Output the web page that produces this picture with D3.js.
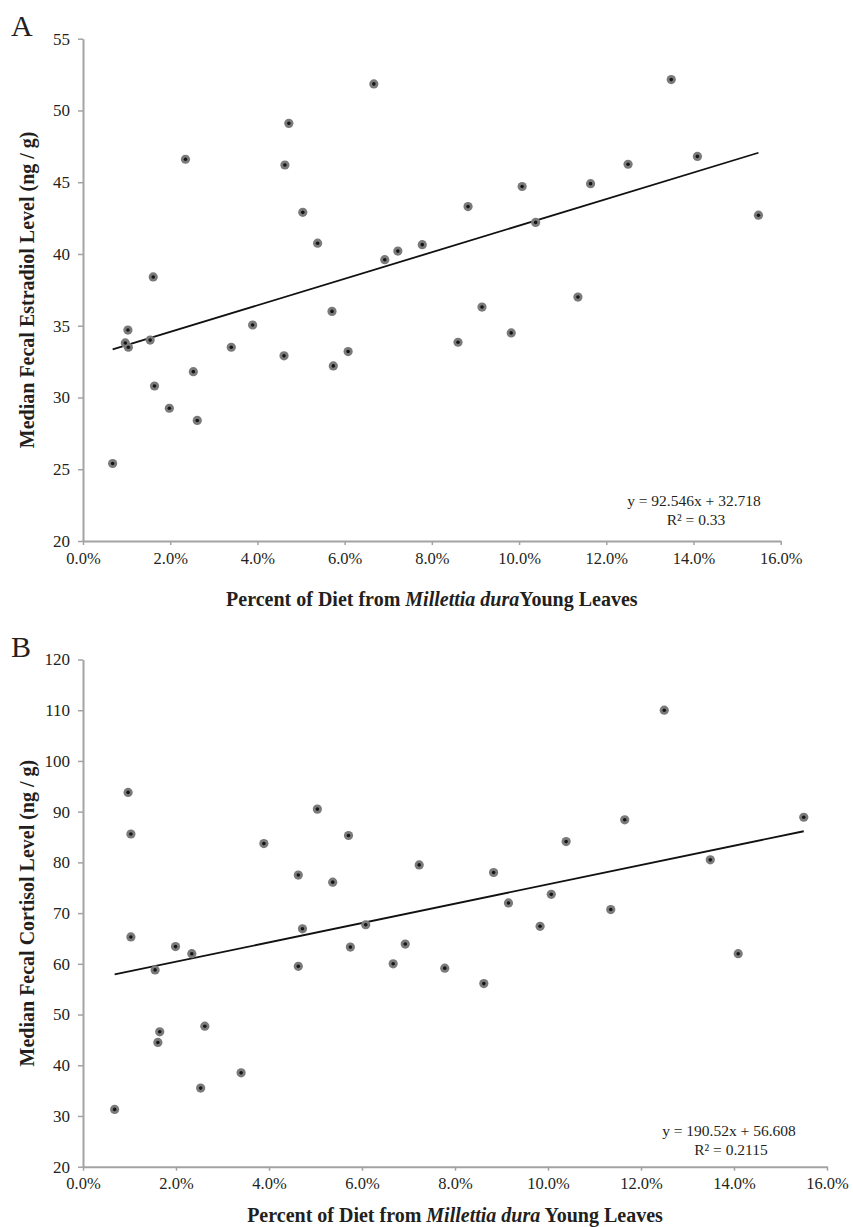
<!DOCTYPE html>
<html>
<head>
<meta charset="utf-8">
<script src="https://cdn.jsdelivr.net/npm/d3@7"></script>
<style>
  html, body { margin: 0; padding: 0; background: #fff; }
  svg { display: block; }
  svg text { font-family: "Liberation Serif", "Times New Roman", Times, serif; fill: #231f20; }
</style>
</head>
<body>
<svg id="chart" width="853" height="1227"></svg>
<script>
// ---- Data (x as fraction of diet) ----
const estradiolX = [0.0068, 0.0097, 0.0103, 0.0104, 0.0154, 0.0161, 0.0164, 0.0198, 0.0235, 0.0253, 0.0262, 0.0340, 0.0389, 0.0461, 0.0463, 0.0472, 0.0504, 0.0538, 0.0571, 0.0574, 0.0608, 0.0667, 0.0692, 0.0722, 0.0778, 0.0860, 0.0883, 0.0915, 0.0982, 0.1007, 0.1038, 0.1135, 0.1164, 0.1250, 0.1349, 0.1409, 0.1549];
const estradiolY = [25.4, 33.8, 34.7, 33.5, 34.0, 38.4, 30.8, 29.25, 46.6, 31.8, 28.4, 33.5, 35.05, 32.9, 46.2, 49.1, 42.9, 40.75, 36.0, 32.2, 33.2, 51.85, 39.6, 40.2, 40.65, 33.85, 43.3, 36.3, 34.5, 44.7, 42.2, 37.0, 44.9, 46.25, 52.15, 46.8, 42.7];

const cortisolX = [0.0068, 0.0097, 0.0103, 0.0103, 0.0155, 0.0161, 0.0165, 0.0199, 0.0234, 0.0253, 0.0262, 0.0340, 0.0389, 0.0463, 0.0463, 0.0472, 0.0504, 0.0537, 0.0571, 0.0575, 0.0608, 0.0667, 0.0693, 0.0723, 0.0778, 0.0862, 0.0883, 0.0915, 0.0983, 0.1007, 0.1039, 0.1135, 0.1165, 0.1250, 0.1349, 0.1409, 0.1550];
const cortisolY = [31.3, 93.8, 85.6, 65.3, 58.8, 44.5, 46.6, 63.4, 62.0, 35.5, 47.7, 38.5, 83.7, 77.5, 59.5, 66.9, 90.5, 76.1, 85.3, 63.3, 67.7, 60.0, 63.9, 79.5, 59.15, 56.1, 78.0, 72.0, 67.4, 73.7, 84.1, 70.7, 88.4, 110.0, 80.5, 62.0, 88.9];

const xTicks = [0, 0.02, 0.04, 0.06, 0.08, 0.10, 0.12, 0.14, 0.16];
const estradiolTicks = [20, 25, 30, 35, 40, 45, 50, 55];
const cortisolTicks = [20, 30, 40, 50, 60, 70, 80, 90, 100, 110, 120];

const estradiolFit = [92.546, 32.718];   // slope, intercept
const cortisolFit = [190.52, 56.608];
const estradiolFitText = ["y = 92.546x + 32.718", "R\u00B2 = 0.33"];
const cortisolFitText = ["y = 190.52x + 56.608", "R\u00B2 = 0.2115"];

const panelLetters = ["A", "B"];
const yTitles = ["Median Fecal Estradiol Level (ng / g)", "Median Fecal Cortisol Level (ng / g)"];

const SERIF = '"Liberation Serif", "Times New Roman", Times, serif';
const svg = d3.select("#chart");
const axisColor = "#a3a3a3";

function drawPanel(cfg) {
  const x = d3.scaleLinear().domain([0, 0.16]).range([cfg.left, cfg.right]);
  const y = d3.scaleLinear().domain([cfg.yTicks[0], cfg.yTicks[cfg.yTicks.length - 1]]).range([cfg.bottom, cfg.top]);
  const g = svg.append("g");

  // y axis
  const ya = g.append("g").attr("transform", `translate(${cfg.left},0)`)
    .call(d3.axisLeft(y).tickValues(cfg.yTicks).tickSize(5).tickSizeOuter(0).tickPadding(8));
  ya.attr("font-family", SERIF).attr("font-size", 17);
  ya.select(".domain").attr("stroke", axisColor).attr("stroke-width", 2);
  ya.selectAll(".tick line").attr("stroke", axisColor).attr("stroke-width", 1.5);
  ya.selectAll(".tick text").attr("font-family", SERIF).attr("font-size", 17).attr("fill", "#231f20");

  // x axis
  const xa = g.append("g").attr("transform", `translate(0,${cfg.bottom})`)
    .call(d3.axisBottom(x).tickValues(xTicks).tickFormat(d3.format(".1%")).tickSize(4).tickSizeOuter(0).tickPadding(7));
  xa.attr("font-family", SERIF).attr("font-size", 16.5);
  xa.select(".domain").attr("stroke", axisColor).attr("stroke-width", 2);
  xa.selectAll(".tick line").attr("stroke", axisColor).attr("stroke-width", 1.5);
  xa.selectAll(".tick text").attr("font-family", SERIF).attr("font-size", 16.5).attr("fill", "#231f20");

  // trend line
  const xmin = d3.min(cfg.xs), xmax = d3.max(cfg.xs);
  const f = v => cfg.fit[0] * v + cfg.fit[1];
  g.append("line")
    .attr("x1", x(xmin)).attr("y1", y(f(xmin)))
    .attr("x2", x(xmax)).attr("y2", y(f(xmax)))
    .attr("stroke", "#111").attr("stroke-width", 1.8);

  // points
  const pts = cfg.xs.map((v, i) => [v, cfg.ys[i]]);
  g.selectAll("circle.outer").data(pts).enter().append("circle")
    .attr("class", "outer")
    .attr("cx", d => x(d[0])).attr("cy", d => y(d[1])).attr("r", 4.6)
    .attr("fill", "#7a7a7a");
  g.selectAll("circle.inner").data(pts).enter().append("circle")
    .attr("class", "inner")
    .attr("cx", d => x(d[0])).attr("cy", d => y(d[1])).attr("r", 1.8)
    .attr("fill", "#151515");

  // equation text
  g.append("text").attr("x", cfg.eqX).attr("y", cfg.eqY).attr("text-anchor", "middle")
    .attr("font-family", SERIF).attr("font-size", 15.5).text(cfg.fitText[0]);
  g.append("text").attr("x", cfg.eqX + 2).attr("y", cfg.eqY + 19).attr("text-anchor", "middle")
    .attr("font-family", SERIF).attr("font-size", 15.5).text(cfg.fitText[1]);

  // panel letter
  g.append("text").attr("x", 11).attr("y", cfg.letterY).attr("font-family", SERIF).attr("font-size", 30).text(cfg.letter);

  // y title
  g.append("text")
    .attr("transform", `translate(34,${(cfg.top + cfg.bottom) / 2}) rotate(-90)`)
    .attr("text-anchor", "middle")
    .attr("font-family", SERIF).attr("font-size", 20).attr("font-weight", "bold")
    .text(cfg.yTitle);

  // x title
  const xt = g.append("text").attr("x", (cfg.left + cfg.right) / 2).attr("y", cfg.xTitleY)
    .attr("text-anchor", "middle").attr("font-family", SERIF).attr("font-size", 20).attr("font-weight", "bold");
  xt.append("tspan").text("Percent of Diet from ");
  xt.append("tspan").attr("font-style", "italic").text("Millettia dura");
  xt.append("tspan").text(cfg.gap + "Young Leaves");
}

drawPanel({
  left: 83, right: 780.7, top: 38.7, bottom: 541,
  xs: estradiolX, ys: estradiolY, yTicks: estradiolTicks, fit: estradiolFit, fitText: estradiolFitText,
  eqX: 694, eqY: 506, letter: panelLetters[0], letterY: 36, yTitle: yTitles[0], xTitleY: 606, gap: ""
});
drawPanel({
  left: 83, right: 827, top: 659.5, bottom: 1166.7,
  xs: cortisolX, ys: cortisolY, yTicks: cortisolTicks, fit: cortisolFit, fitText: cortisolFitText,
  eqX: 729, eqY: 1136, letter: panelLetters[1], letterY: 657, yTitle: yTitles[1], xTitleY: 1222, gap: " "
});
</script>
</body>
</html>
